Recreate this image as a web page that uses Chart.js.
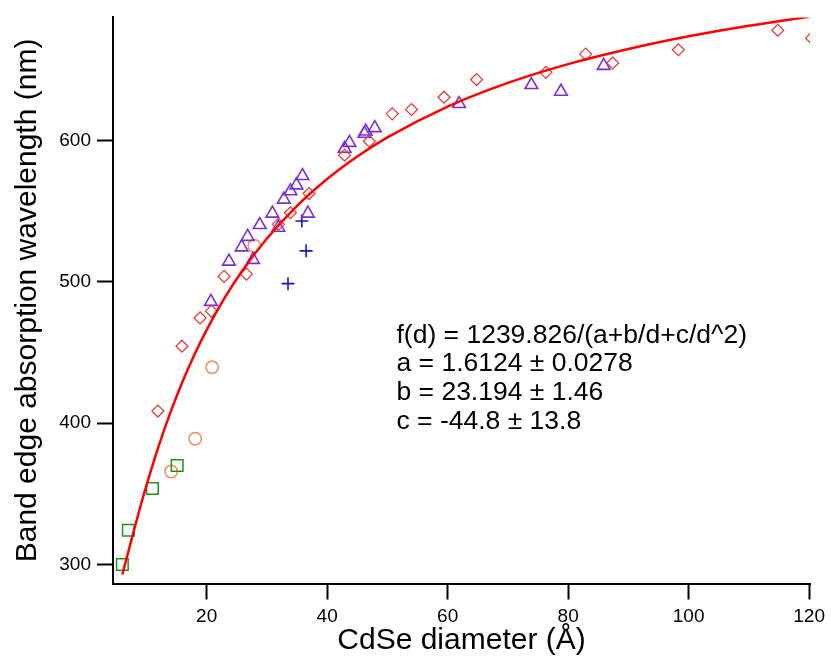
<!DOCTYPE html>
<html>
<head>
<meta charset="utf-8">
<script src="https://cdn.jsdelivr.net/npm/chart.js@4.4.1/dist/chart.umd.min.js"></script>
<style>
  html, body { margin: 0; padding: 0; background: #fff; }
  #wrap { width: 831px; height: 659px; }
</style>
</head>
<body>
<div id="wrap"><canvas id="c" width="831" height="659"></canvas></div>
<script>
// ---- data ----
const diamondX = [11.9, 15.9, 18.9, 20.8, 22.9, 26.6, 31.9, 33.9, 37.0, 42.9, 47.0, 50.8, 54.0, 59.4, 64.8, 76.3, 82.9, 87.4, 98.3, 114.8, 120.4];
const diamondY = [408.6, 454.5, 474.5, 479.3, 503.9, 505.5, 540.8, 549.0, 562.6, 589.7, 599.6, 619.0, 622.1, 630.8, 643.3, 648.4, 661.3, 655.0, 664.4, 678.2, 672.6];

const triangleX = [20.7, 23.7, 25.8, 26.8, 27.7, 28.8, 30.9, 31.9, 32.8, 33.9, 34.9, 35.9, 36.8, 42.9, 43.7, 46.2, 46.4, 47.9, 61.9, 73.9, 78.8, 85.9];
const triangleY = [486.0, 514.5, 524.6, 532.0, 515.7, 540.4, 548.5, 538.5, 558.4, 564.3, 568.5, 575.1, 548.5, 594.4, 598.6, 605.0, 606.6, 609.0, 626.1, 639.5, 634.8, 653.1];

const squareX = [6.0, 7.0, 11.0, 15.1];
const squareY = [300.0, 324.2, 353.8, 370.0];

const circleX = [14.1, 18.1, 20.9, 27.9];
const circleY = [365.8, 389.0, 439.6, 525.6];

const crossX = [33.5, 35.8, 36.5];
const crossY = [498.8, 543.2, 522.0];

// fitted curve, sampled along the drawn red line
const fitX = [6, 7, 8, 9, 10, 12, 14, 16, 18, 20, 23, 26, 30, 35, 40, 45, 50, 60, 70, 80, 90, 100, 110, 120];
const fitY = [292.9, 309.1, 325.3, 341.0, 355.9, 383.4, 407.8, 429.5, 448.8, 466.1, 488.9, 508.5, 530.8, 553.9, 572.9, 588.8, 602.3, 624.1, 640.9, 654.2, 664.9, 673.9, 681.4, 687.8];

const xTicks = [20, 40, 60, 80, 100, 120];
const yTicks = [300, 400, 500, 600];

const fitText = [
  'f(d) = 1239.826/(a+b/d+c/d^2)',
  'a = 1.6124 \u00B1 0.0278',
  'b = 23.194 \u00B1 1.46',
  'c = -44.8 \u00B1 13.8'
];

const xTitle = 'CdSe diameter (\u00C5)';
const yTitle = 'Band edge absorption wavelength (nm)';

function pts(xs, ys) { return xs.map((x, i) => ({ x: x, y: ys[i] })); }

const FONT = '"Liberation Sans", Arial, Helvetica, sans-serif';

const annotationPlugin = {
  id: 'fitAnnotation',
  afterDraw(chart) {
    const ctx = chart.ctx;
    ctx.save();
    ctx.fillStyle = '#000';
    ctx.font = '26.5px ' + FONT;
    ctx.textBaseline = 'middle';
    ctx.textAlign = 'left';
    const xs = chart.scales.x;
    const ys = chart.scales.y;
    const x0 = xs.getPixelForValue(51.5);
    const y0 = ys.getPixelForValue(462.3);
    fitText.forEach((t, i) => ctx.fillText(t, x0, y0 + i * 28.8));
    ctx.restore();
  }
};

new Chart(document.getElementById('c'), {
  type: 'scatter',
  data: {
    datasets: [
      {
        label: 'fit',
        data: pts(fitX, fitY),
        showLine: true,
        borderColor: 'rgb(255,0,0)',
        borderWidth: 2.5,
        pointRadius: 0,
        cubicInterpolationMode: 'monotone',
        fill: false
      },
      {
        label: 'diamonds',
        data: pts(diamondX, diamondY),
        pointStyle: 'rectRot',
        pointRadius: 6,
        borderColor: 'rgb(225,55,55)',
        backgroundColor: 'rgba(0,0,0,0)',
        borderWidth: 1.2
      },
      {
        label: 'triangles',
        data: pts(triangleX, triangleY),
        pointStyle: 'triangle',
        pointRadius: 7.3,
        borderColor: 'rgb(125,45,215)',
        backgroundColor: 'rgba(0,0,0,0)',
        borderWidth: 1.6
      },
      {
        label: 'squares',
        data: pts(squareX, squareY),
        pointStyle: 'rect',
        pointRadius: 8.2,
        borderColor: 'rgb(30,145,30)',
        backgroundColor: 'rgba(0,0,0,0)',
        borderWidth: 1.5
      },
      {
        label: 'circles',
        data: pts(circleX, circleY),
        pointStyle: 'circle',
        pointRadius: 6.2,
        borderColor: 'rgb(240,140,90)',
        backgroundColor: 'rgba(0,0,0,0)',
        borderWidth: 1.5
      },
      {
        label: 'crosses',
        data: pts(crossX, crossY),
        pointStyle: 'cross',
        pointRadius: 6.5,
        borderColor: 'rgb(20,20,200)',
        backgroundColor: 'rgba(0,0,0,0)',
        borderWidth: 1.6
      }
    ]
  },
  options: {
    responsive: false,
    animation: false,
    events: [],
    layout: { padding: { left: 0, right: 18, top: 15, bottom: 0 } },
    plugins: {
      legend: { display: false },
      tooltip: { enabled: false },
      title: { display: false }
    },
    scales: {
      x: {
        type: 'linear',
        min: 4.45,
        max: 120.15,
        afterBuildTicks(scale) { scale.ticks = xTicks.map(v => ({ value: v })); },
        afterFit(scale) { scale.height = 75.5; },
        border: { display: true, color: '#000', width: 2 },
        grid: { drawOnChartArea: false, drawTicks: true, tickLength: 16, tickColor: '#000', tickWidth: 2 },
        ticks: { color: '#000', font: { family: FONT, size: 19 }, padding: 6, maxRotation: 0, autoSkip: false },
        title: { display: true, text: xTitle, color: '#000', font: { family: FONT, size: 30 }, padding: { top: 0, bottom: 0 } }
      },
      y: {
        type: 'linear',
        min: 286.5,
        max: 687.3,
        afterBuildTicks(scale) { scale.ticks = yTicks.map(v => ({ value: v })); },
        afterFit(scale) { scale.width = 113; },
        border: { display: true, color: '#000', width: 2 },
        grid: { drawOnChartArea: false, drawTicks: true, tickLength: 16, tickColor: '#000', tickWidth: 2 },
        ticks: { color: '#000', font: { family: FONT, size: 19 }, padding: 6, autoSkip: false },
        title: { display: true, text: yTitle, color: '#000', font: { family: FONT, size: 30 }, padding: { top: 10, bottom: 0 } }
      }
    }
  },
  plugins: [annotationPlugin]
});
</script>
</body>
</html>
